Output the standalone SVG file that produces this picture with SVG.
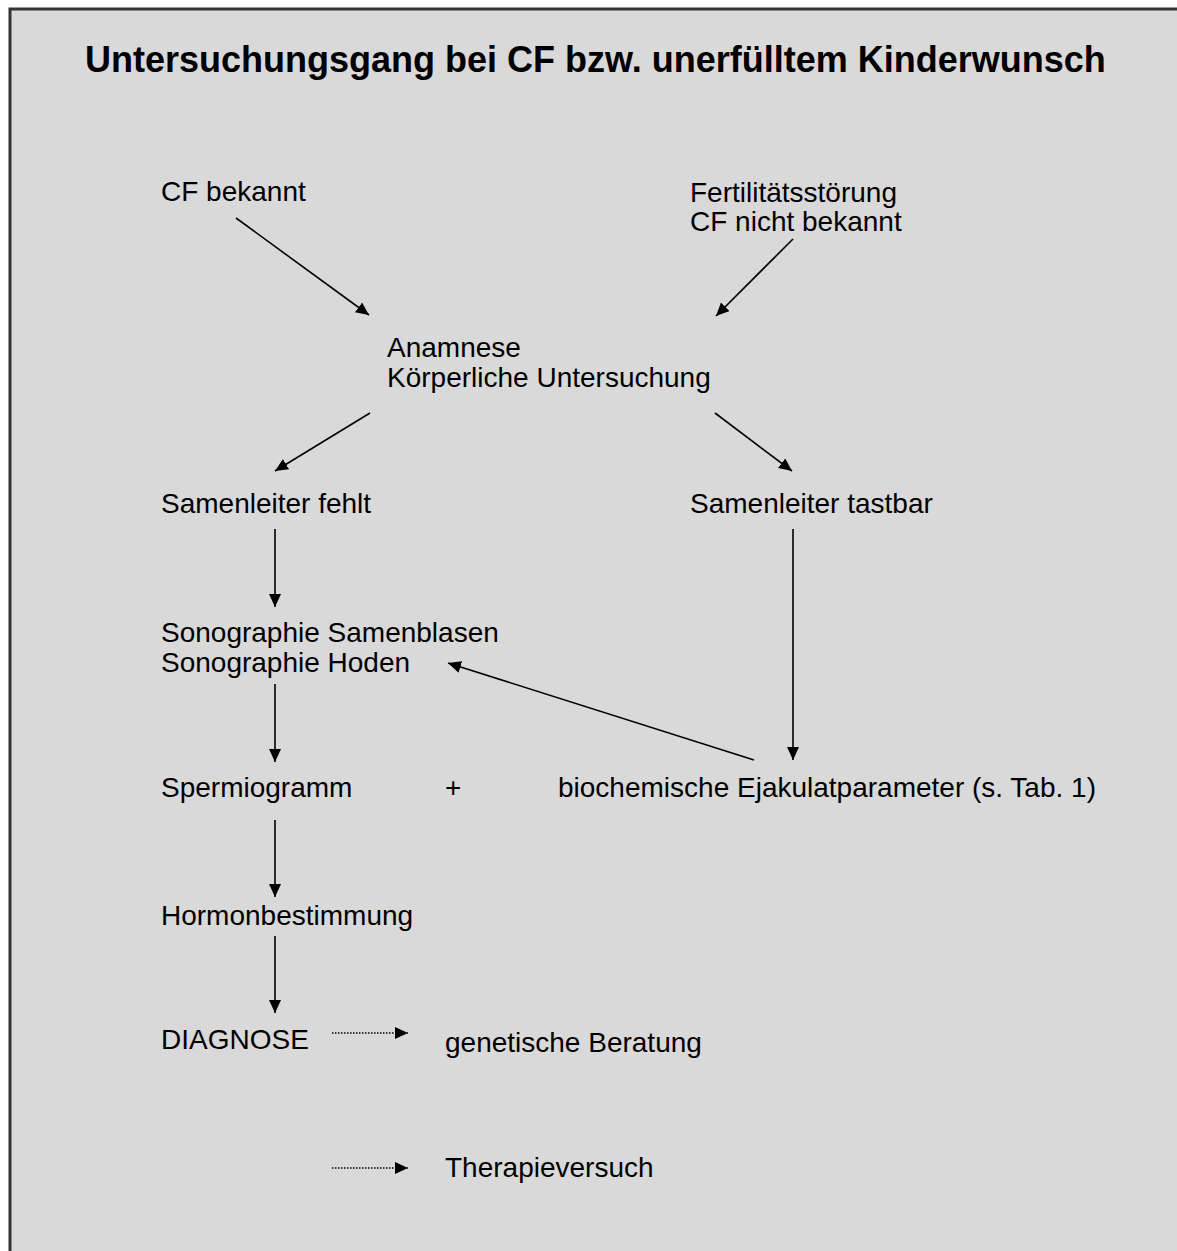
<svg xmlns="http://www.w3.org/2000/svg" width="1177" height="1251" viewBox="0 0 1177 1251">
  <style>
    .t { font-family: "Liberation Sans", Arial, sans-serif; font-size: 28px; fill: #000; }
    .title { font-family: "Liberation Sans", Arial, sans-serif; font-size: 36px; font-weight: bold; fill: #000; }
    .c { stroke: #000; stroke-width: 1.6; fill: none; }
    .d { stroke: #000; stroke-width: 1.6; fill: none; stroke-dasharray: 1.5 1.5; }
  </style>
  <defs>
    <marker id="ah" markerUnits="userSpaceOnUse" markerWidth="14" markerHeight="13" refX="13" refY="6" orient="auto">
      <path d="M0,0 L13,6 L0,12 z" fill="#000"/>
    </marker>
  </defs>
  <rect x="0" y="0" width="1177" height="1251" fill="#ffffff"/>
  <rect x="10" y="9" width="1190" height="1270" fill="#d9d9d9" stroke="#333" stroke-width="3"/>

  <g id="title"><text class="title" x="85" y="72">Untersuchungsgang bei CF bzw. unerfülltem Kinderwunsch</text></g>

  <g id="cf-bekannt"><text class="t" x="161" y="201">CF bekannt</text></g>
  <g id="fertilitaet"><text class="t" x="690" y="202">Fertilitätsstörung</text><text class="t" x="690" y="231">CF nicht bekannt</text></g>
  <g id="anamnese"><text class="t" x="387" y="357">Anamnese</text><text class="t" x="387" y="387">Körperliche Untersuchung</text></g>
  <g id="samenleiter-fehlt"><text class="t" x="161" y="513">Samenleiter fehlt</text></g>
  <g id="samenleiter-tastbar"><text class="t" x="690" y="513">Samenleiter tastbar</text></g>
  <g id="sonographie"><text class="t" x="161" y="642">Sonographie Samenblasen</text><text class="t" x="161" y="672">Sonographie Hoden</text></g>
  <g id="spermiogramm"><text class="t" x="161" y="797">Spermiogramm</text></g>
  <g id="plus"><text class="t" x="445" y="797">+</text></g>
  <g id="biochemische"><text class="t" x="558" y="797">biochemische Ejakulatparameter (s. Tab. 1)</text></g>
  <g id="hormon"><text class="t" x="161" y="925">Hormonbestimmung</text></g>
  <g id="diagnose"><text class="t" x="161" y="1049">DIAGNOSE</text></g>
  <g id="genetische"><text class="t" x="445" y="1052">genetische Beratung</text></g>
  <g id="therapie"><text class="t" x="445" y="1177">Therapieversuch</text></g>

  <g id="connectors">
    <line class="c" x1="236" y1="218" x2="369" y2="315" marker-end="url(#ah)"/>
    <line class="c" x1="793" y1="239" x2="716" y2="316" marker-end="url(#ah)"/>
    <line class="c" x1="370" y1="413" x2="275" y2="471" marker-end="url(#ah)"/>
    <line class="c" x1="715" y1="413" x2="792" y2="471" marker-end="url(#ah)"/>
    <line class="c" x1="275" y1="529" x2="275" y2="607" marker-end="url(#ah)"/>
    <line class="c" x1="275" y1="684" x2="275" y2="762" marker-end="url(#ah)"/>
    <line class="c" x1="793" y1="529" x2="793" y2="760" marker-end="url(#ah)"/>
    <line class="c" x1="754" y1="760" x2="448" y2="663" marker-end="url(#ah)"/>
    <line class="c" x1="275" y1="820" x2="275" y2="897" marker-end="url(#ah)"/>
    <line class="c" x1="275" y1="936" x2="275" y2="1013" marker-end="url(#ah)"/>
    <line class="d" x1="332" y1="1033" x2="408" y2="1033" marker-end="url(#ah)"/>
    <line class="d" x1="332" y1="1168" x2="408" y2="1168" marker-end="url(#ah)"/>
  </g>
</svg>
